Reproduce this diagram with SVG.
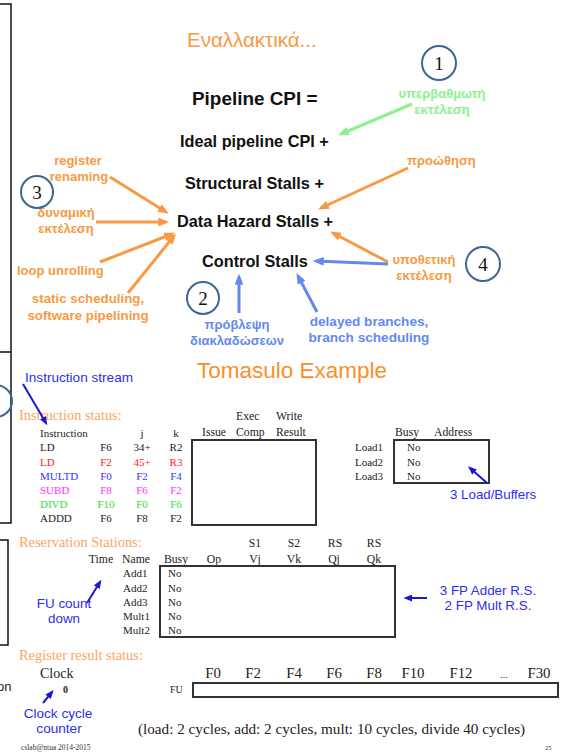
<svg xmlns="http://www.w3.org/2000/svg" width="575" height="753" viewBox="0 0 575 753">
  <style>
    .sans { font-family: "Liberation Sans", Arial, sans-serif; }
    .serif { font-family: "Liberation Serif", "Times New Roman", serif; }
    .hdr { font-family: "Liberation Sans", Arial, sans-serif; font-weight: bold; font-size: 16.3px; fill: #111; }
    .lab { font-family: "Liberation Sans", Arial, sans-serif; font-weight: bold; font-size: 13px; }
    .or { fill: #f79a43; }
    .gr { fill: #8ef08e; }
    .lb { fill: #6489ee; }
    .db { fill: #2d2df5; }
    .sec { font-family: "Liberation Serif", "Times New Roman", serif; font-size: 14.4px; fill: #fca55f; }
    .cell { font-family: "Liberation Serif", "Times New Roman", serif; font-size: 11px; fill: #222; }
    .col { font-family: "Liberation Serif", "Times New Roman", serif; font-size: 11.7px; fill: #222; }
    .reg { font-family: "Liberation Serif", "Times New Roman", serif; font-size: 14.8px; fill: #222; }
    .num { font-family: "Liberation Serif", "Times New Roman", serif; font-size: 19px; fill: #111; }
    .ring { fill: none; stroke: #3b6596; stroke-width: 2; }
    .frame { fill: none; stroke: #111; stroke-width: 1.5; }
    .box { fill: none; stroke: #333; stroke-width: 2; }
    .a-or { stroke: #f79a43; stroke-width: 3; fill: none; marker-end: url(#h-or); }
    .a-gr { stroke: #8ef08e; stroke-width: 3; fill: none; marker-end: url(#h-gr); }
    .a-lb { stroke: #6489ee; stroke-width: 3; fill: none; marker-end: url(#h-lb); }
    .a-db { stroke: #1a1acc; stroke-width: 2; fill: none; marker-end: url(#h-db); }
  </style>
  <defs>
    <marker id="h-or" viewBox="0 0 10 8" refX="7" refY="4" markerWidth="11" markerHeight="9" markerUnits="userSpaceOnUse" orient="auto">
      <path d="M0,0 L10,4 L0,8 Z" fill="#f79a43"/>
    </marker>
    <marker id="h-gr" viewBox="0 0 10 8" refX="7" refY="4" markerWidth="11" markerHeight="9" markerUnits="userSpaceOnUse" orient="auto">
      <path d="M0,0 L10,4 L0,8 Z" fill="#8ef08e"/>
    </marker>
    <marker id="h-lb" viewBox="0 0 10 8" refX="7" refY="4" markerWidth="11" markerHeight="9" markerUnits="userSpaceOnUse" orient="auto">
      <path d="M0,0 L10,4 L0,8 Z" fill="#6489ee"/>
    </marker>
    <marker id="h-db" viewBox="0 0 10 8" refX="7" refY="4" markerWidth="9" markerHeight="7" markerUnits="userSpaceOnUse" orient="auto">
      <path d="M0,0 L10,4 L0,8 Z" fill="#1a1acc"/>
    </marker>
  </defs>

  <rect width="575" height="753" fill="#ffffff"/>

  <!-- page edge frames -->
  <g id="edges">
    <path class="frame" d="M0,4 H11 V523 H0 M0,352 H11"/>
    <path class="frame" d="M0,540 H8 V645 H0"/>
    <circle class="ring" cx="-4" cy="401" r="16"/>
    <text class="sans" x="-3" y="691" font-size="13" fill="#222">on</text>
  </g>

  <!-- CPI breakdown -->
  <g id="cpi-title">
    <text class="sans or" x="187" y="47" font-size="20.5">Εναλλακτικά...</text>
  </g>
  <g id="pipeline-cpi">
    <text class="hdr" x="192" y="105" style="font-size:18.9px">Pipeline CPI =</text>
  </g>
  <g id="ideal-cpi"><text class="hdr" x="180" y="147">Ideal pipeline CPI +</text></g>
  <g id="structural"><text class="hdr" x="185" y="189">Structural Stalls +</text></g>
  <g id="data-hazard"><text class="hdr" x="177" y="227">Data Hazard Stalls +</text></g>
  <g id="control"><text class="hdr" x="202" y="267">Control Stalls</text></g>

  <g id="superscalar">
    <text class="lab gr" x="442" y="98" text-anchor="middle">υπερβαθμωτή</text>
    <text class="lab gr" x="442" y="114" text-anchor="middle">εκτέλεση</text>
  </g>
  <g id="forwarding"><text class="lab or" x="407" y="165">προώθηση</text></g>
  <g id="speculation">
    <text class="lab or" x="424" y="264" text-anchor="middle">υποθετική</text>
    <text class="lab or" x="424" y="280" text-anchor="middle">εκτέλεση</text>
  </g>
  <g id="delayed">
    <text class="lab lb" x="369" y="326" text-anchor="middle" style="font-size:13.6px">delayed branches,</text>
    <text class="lab lb" x="369" y="342" text-anchor="middle" style="font-size:13.6px">branch scheduling</text>
  </g>
  <g id="prediction">
    <text class="lab lb" x="237" y="329" text-anchor="middle">πρόβλεψη</text>
    <text class="lab lb" x="237" y="345" text-anchor="middle">διακλαδώσεων</text>
  </g>
  <g id="renaming">
    <text class="lab or" x="78" y="165" text-anchor="middle">register</text>
    <text class="lab or" x="79" y="181" text-anchor="middle">renaming</text>
  </g>
  <g id="dynamic">
    <text class="lab or" x="66" y="217" text-anchor="middle">δυναμική</text>
    <text class="lab or" x="66" y="233" text-anchor="middle">εκτέλεση</text>
  </g>
  <g id="unrolling"><text class="lab or" x="17" y="275">loop unrolling</text></g>
  <g id="static-sched">
    <text class="lab or" x="88" y="303" text-anchor="middle" style="font-size:13.3px">static scheduling,</text>
    <text class="lab or" x="88" y="320" text-anchor="middle" style="font-size:13.3px">software pipelining</text>
  </g>

  <g id="badge-1"><circle class="ring" cx="439" cy="63" r="17"/><text class="num" x="439" y="70" text-anchor="middle">1</text></g>
  <g id="badge-2"><circle class="ring" cx="203" cy="298" r="16"/><text class="num" x="203" y="305" text-anchor="middle">2</text></g>
  <g id="badge-3"><circle class="ring" cx="37" cy="192" r="16"/><text class="num" x="37" y="199" text-anchor="middle">3</text></g>
  <g id="badge-4"><circle class="ring" cx="483" cy="264" r="17"/><text class="num" x="483" y="271" text-anchor="middle">4</text></g>

  <!-- Tomasulo tables -->
  <g id="tomasulo-title">
    <text class="sans" x="197" y="378" font-size="22.5" fill="#fb8f2a">Tomasulo Example</text>
  </g>

  <g id="instr-stream">
    <text class="sans db" x="25" y="382" font-size="13.6">Instruction stream</text>
  </g>

  <g id="instruction-status">
    <text class="sec" x="19" y="420">Instruction status:</text>
    <text class="col" x="236" y="420">Exec</text>
    <text class="col" x="276" y="420">Write</text>
    <text class="cell" x="40" y="437">Instruction</text>
    <text class="cell" x="142" y="437" text-anchor="middle">j</text>
    <text class="cell" x="176" y="437" text-anchor="middle">k</text>
    <text class="col" x="202" y="436">Issue</text>
    <text class="col" x="236" y="436">Comp</text>
    <text class="col" x="276" y="436">Result</text>
    <g class="cell">
      <text x="40" y="451">LD</text><text x="106" y="451" text-anchor="middle">F6</text><text x="142" y="451" text-anchor="middle">34+</text><text x="176" y="451" text-anchor="middle">R2</text>
    </g>
    <g class="cell" style="fill:#ff2222">
      <text x="40" y="465.5">LD</text><text x="106" y="465.5" text-anchor="middle">F2</text><text x="142" y="465.5" text-anchor="middle">45+</text><text x="176" y="465.5" text-anchor="middle">R3</text>
    </g>
    <g class="cell" style="fill:#3434ff">
      <text x="40" y="479.5">MULTD</text><text x="106" y="479.5" text-anchor="middle">F0</text><text x="142" y="479.5" text-anchor="middle">F2</text><text x="176" y="479.5" text-anchor="middle">F4</text>
    </g>
    <g class="cell" style="fill:#ff33ff">
      <text x="40" y="493.5">SUBD</text><text x="106" y="493.5" text-anchor="middle">F8</text><text x="142" y="493.5" text-anchor="middle">F6</text><text x="176" y="493.5" text-anchor="middle">F2</text>
    </g>
    <g class="cell" style="fill:#33e033">
      <text x="40" y="508">DIVD</text><text x="106" y="508" text-anchor="middle">F10</text><text x="142" y="508" text-anchor="middle">F0</text><text x="176" y="508" text-anchor="middle">F6</text>
    </g>
    <g class="cell">
      <text x="40" y="522">ADDD</text><text x="106" y="522" text-anchor="middle">F6</text><text x="142" y="522" text-anchor="middle">F8</text><text x="176" y="522" text-anchor="middle">F2</text>
    </g>
    <rect class="box" x="192" y="440" width="124" height="85"/>
  </g>

  <g id="load-buffers">
    <text class="col" x="395" y="436">Busy</text>
    <text class="col" x="434" y="436">Address</text>
    <text class="cell" x="355" y="451">Load1</text>
    <text class="cell" x="355" y="465.5">Load2</text>
    <text class="cell" x="355" y="479.5">Load3</text>
    <text class="cell" x="407" y="451">No</text>
    <text class="cell" x="407" y="465.5">No</text>
    <text class="cell" x="407" y="479.5">No</text>
    <rect class="box" x="394" y="440" width="95" height="43"/>
    <text class="sans db" x="450" y="499" font-size="13.3">3 Load/Buffers</text>
  </g>

  <g id="reservation-stations">
    <text class="sec" x="19" y="547">Reservation Stations:</text>
    <g class="col" text-anchor="middle">
      <text x="255" y="547">S1</text>
      <text x="294" y="547">S2</text>
      <text x="335" y="547">RS</text>
      <text x="374" y="547">RS</text>
      <text x="101" y="563">Time</text>
      <text x="136" y="563">Name</text>
      <text x="176" y="563">Busy</text>
      <text x="214" y="563">Op</text>
      <text x="255" y="563">Vj</text>
      <text x="294" y="563">Vk</text>
      <text x="334" y="563">Qj</text>
      <text x="374" y="563">Qk</text>
    </g>
    <g class="cell">
      <text x="123" y="577">Add1</text><text x="168" y="577">No</text>
      <text x="123" y="592">Add2</text><text x="168" y="592">No</text>
      <text x="123" y="606">Add3</text><text x="168" y="606">No</text>
      <text x="123" y="620">Mult1</text><text x="168" y="620">No</text>
      <text x="123" y="634">Mult2</text><text x="168" y="634">No</text>
    </g>
    <rect class="box" x="160" y="566" width="235" height="71"/>
    <text class="sans db" x="488" y="595" font-size="13.4" text-anchor="middle">3 FP Adder R.S.</text>
    <text class="sans db" x="488" y="610" font-size="13.4" text-anchor="middle">2 FP Mult R.S.</text>
  </g>

  <g id="fu-count">
    <text class="sans db" x="64" y="608" font-size="13.4" text-anchor="middle">FU count</text>
    <text class="sans db" x="64" y="623" font-size="13.4" text-anchor="middle">down</text>
  </g>

  <g id="register-status">
    <text class="sec" x="19" y="660">Register result status:</text>
    <text class="reg" x="40" y="678" style="font-size:14px">Clock</text>
    <text class="serif" x="63" y="693" font-size="10" font-weight="bold" fill="#222">0</text>
    <g class="reg" text-anchor="middle">
      <text x="213" y="678">F0</text>
      <text x="253" y="678">F2</text>
      <text x="294" y="678">F4</text>
      <text x="334" y="678">F6</text>
      <text x="374" y="678">F8</text>
      <text x="413" y="678">F10</text>
      <text x="461" y="678">F12</text>
      <text x="504" y="678" style="font-size:10px">...</text>
      <text x="539" y="678">F30</text>
    </g>
    <text class="cell" x="170" y="693" style="font-size:10px">FU</text>
    <rect class="box" x="193" y="683" width="365" height="14"/>
  </g>

  <g id="clock-counter">
    <text class="sans db" x="58" y="718" font-size="13.6" text-anchor="middle">Clock cycle</text>
    <text class="sans db" x="59" y="733" font-size="13.6" text-anchor="middle">counter</text>
  </g>

  <g id="latencies">
    <text class="reg" x="138" y="734" style="font-size:15.2px">(load: 2 cycles, add: 2 cycles, mult: 10 cycles, divide 40 cycles)</text>
  </g>

  <g id="footer">
    <text class="serif" x="21" y="750" font-size="7.5" fill="#333">cslab@ntua 2014-2015</text>
    <text class="serif" x="545" y="750" font-size="6.5" fill="#333">25</text>
  </g>

  <!-- connectors -->
  <g id="connectors">
    <line class="a-gr" x1="412" y1="104" x2="341" y2="134"/>
    <line class="a-or" x1="408" y1="168" x2="321" y2="208"/>
    <line class="a-or" x1="388" y1="262" x2="333" y2="233"/>
    <line class="a-or" x1="110" y1="177" x2="166" y2="212"/>
    <line class="a-or" x1="96" y1="222" x2="166" y2="222"/>
    <line class="a-or" x1="100" y1="262" x2="172" y2="234"/>
    <line class="a-or" x1="128" y1="293" x2="174" y2="236"/>
    <line class="a-lb" x1="388" y1="264" x2="316" y2="261"/>
    <line class="a-lb" x1="317" y1="312" x2="298" y2="276"/>
    <line class="a-lb" x1="239" y1="313" x2="239" y2="277"/>
    <line class="a-db" x1="23" y1="384" x2="46" y2="423"/>
    <line class="a-db" x1="487" y1="483" x2="470" y2="468"/>
    <line class="a-db" x1="87" y1="603" x2="100" y2="582"/>
    <line class="a-db" x1="427" y1="598" x2="406" y2="598"/>
    <line class="a-db" x1="43" y1="703" x2="52" y2="692"/>
  </g>
</svg>
